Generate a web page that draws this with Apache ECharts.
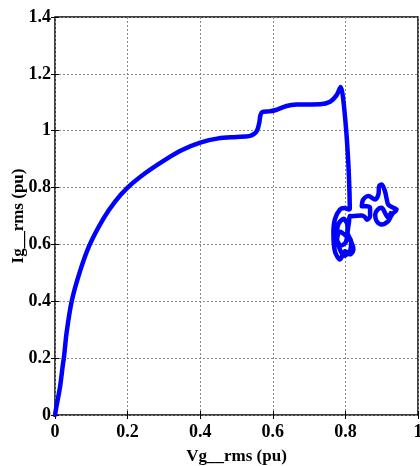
<!DOCTYPE html>
<html>
<head>
<meta charset="utf-8">
<script src="https://cdn.jsdelivr.net/npm/echarts@6/dist/echarts.min.js"></script>
<style>
  html, body { margin: 0; padding: 0; background: #fff; }
  #chart { width: 420px; height: 466px; }
</style>
</head>
<body>
<div id="chart"></div>
<script>
// Grid voltage (rms, pu) and grid current (rms, pu) trajectory
const vgRms = [
  0.000, 0.004, 0.014, 0.021, 0.025, 0.032, 0.046, 0.069, 0.096, 0.133,
  0.165, 0.200, 0.250, 0.300, 0.350, 0.400, 0.450, 0.500, 0.535, 0.550,
  0.558, 0.563, 0.566, 0.572, 0.590, 0.606, 0.638, 0.666, 0.730, 0.758,
  0.776, 0.787, 0.793, 0.802, 0.808, 0.811, 0.812,
  // oscillation after the voltage recovers
  0.810, 0.798, 0.785, 0.771, 0.767, 0.771, 0.785, 0.799, 0.813, 0.822,
  0.816, 0.807, 0.785, 0.777, 0.788, 0.802, 0.806, 0.795, 0.781, 0.776,
  0.784, 0.797, 0.812, 0.816, 0.806, 0.810, 0.812,
  0.818, 0.845, 0.854, 0.859, 0.868, 0.868, 0.859, 0.845, 0.849, 0.863,
  0.882, 0.891, 0.893, 0.900, 0.909, 0.914, 0.918, 0.932, 0.941, 0.928,
  0.918, 0.900, 0.886, 0.882, 0.889, 0.900, 0.909, 0.917, 0.925
];
const igRms = [
  0.000, 0.030, 0.100, 0.170, 0.207, 0.290, 0.400, 0.506, 0.600, 0.690,
  0.750, 0.800, 0.852, 0.895, 0.932, 0.958, 0.973, 0.978, 0.981, 0.990,
  1.005, 1.030, 1.055, 1.066, 1.068, 1.072, 1.087, 1.092, 1.093, 1.102,
  1.125, 1.154, 1.121, 1.004, 0.887, 0.793, 0.725,
  0.723, 0.728, 0.723, 0.688, 0.641, 0.576, 0.547, 0.576, 0.565, 0.582,
  0.610, 0.624, 0.645, 0.617, 0.596, 0.610, 0.665, 0.690, 0.672, 0.630,
  0.585, 0.560, 0.575, 0.610, 0.640, 0.680, 0.700,
  0.699, 0.702, 0.696, 0.687, 0.699, 0.729, 0.734, 0.734, 0.758, 0.770,
  0.758, 0.776, 0.805, 0.811, 0.787, 0.758, 0.740, 0.729, 0.723, 0.705,
  0.682, 0.670, 0.682, 0.705, 0.723, 0.729, 0.711, 0.695, 0.710
];
const xTicks = [0, 0.2, 0.4, 0.6, 0.8, 1];
const yTicks = [0, 0.2, 0.4, 0.6, 0.8, 1, 1.2, 1.4];

const points = vgRms.map((v, i) => [v, igRms[i]]);

const labelFont = {
  fontFamily: '"Liberation Serif", "Times New Roman", serif',
  fontWeight: 'bold',
  fontSize: 18,
  color: '#000'
};
const fmt = v => String(Math.round(v * 10) / 10);

const chart = echarts.init(document.getElementById('chart'), null, { renderer: 'canvas' });
chart.setOption({
  animation: false,
  backgroundColor: '#fff',
  grid: {
    left: 55, right: 2, top: 17, bottom: 51,
    containLabel: false, outerBoundsMode: 'none',
    show: true, borderColor: '#000', borderWidth: 1.5, backgroundColor: 'transparent'
  },
  xAxis: [{
    type: 'value', min: 0, max: 1, interval: 0.2,
    name: 'Vg__rms (pu)', nameLocation: 'middle', nameGap: 33, nameMoveOverlap: false,
    nameTextStyle: Object.assign({}, labelFont, { fontSize: 17 }),
    axisLine: { show: false },
    axisTick: { show: true, inside: true, length: 4, lineStyle: { color: '#000' } },
    axisLabel: Object.assign({}, labelFont, { margin: 8, formatter: fmt, customValues: xTicks }),
    splitLine: { show: true, lineStyle: { color: '#888', type: [2, 2], width: 1 } }
  }, {
    type: 'value', min: 0, max: 1, interval: 0.2, position: 'top',
    axisLine: { show: false }, axisLabel: { show: false },
    axisTick: { show: true, inside: true, length: 4, lineStyle: { color: '#000' } },
    splitLine: { show: false }
  }],
  yAxis: [{
    type: 'value', min: 0, max: 1.4, interval: 0.2,
    name: 'Ig__rms (pu)', nameLocation: 'middle', nameGap: 28, nameMoveOverlap: false,
    nameTextStyle: Object.assign({}, labelFont, { fontSize: 17 }),
    axisLine: { show: false },
    axisTick: { show: true, inside: true, length: 4, lineStyle: { color: '#000' } },
    axisLabel: Object.assign({}, labelFont, { margin: 4, formatter: fmt, customValues: yTicks }),
    splitLine: { show: true, lineStyle: { color: '#888', type: [2, 2], width: 1 } }
  }, {
    type: 'value', min: 0, max: 1.4, interval: 0.2, position: 'right',
    axisLine: { show: false }, axisLabel: { show: false },
    axisTick: { show: true, inside: true, length: 4, lineStyle: { color: '#000' } },
    splitLine: { show: false }
  }],
  series: [{
    type: 'line',
    data: points,
    xAxisIndex: 0, yAxisIndex: 0,
    showSymbol: false,
    smooth: 0.3,
    lineStyle: { color: '#0000ff', width: 4.5, join: 'round', cap: 'round' },
    clip: true
  }]
});
</script>
</body>
</html>
